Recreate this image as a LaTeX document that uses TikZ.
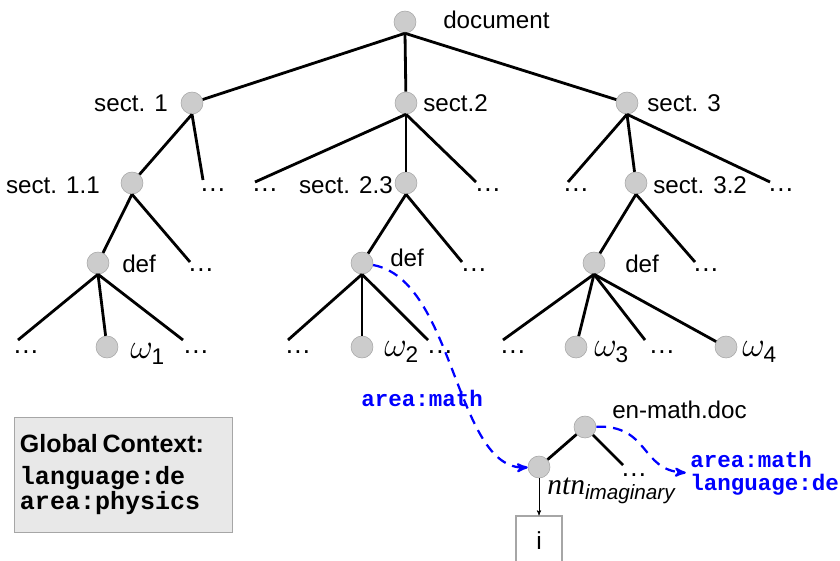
\documentclass[tikz,border=0pt]{standalone}
\usepackage{amsmath}
\usepackage{fontspec}
\setmainfont{Liberation Sans}
\setsansfont{Liberation Sans}
\setmonofont{Liberation Mono}
\newfontfamily\serifit{Liberation Serif}
\usetikzlibrary{arrows}

\begin{document}
\begin{tikzpicture}[x=0.025cm,y=-0.025cm,>=stealth',
  tree node/.style={circle,fill=gray!40,draw=gray!70,thin,minimum size=0.55cm,inner sep=0pt},
  tree edge/.style={-,line width=2pt},
  lbl/.style={font=\fontsize{17.2}{20}\selectfont,inner sep=0pt},
  dots/.style={font=\fontsize{19}{20}\selectfont,inner sep=0pt},
  leaf/.style={font=\fontsize{23}{24}\selectfont,inner sep=0pt,anchor=west},
  ctx/.style={font=\ttfamily\bfseries\fontsize{16}{16.5}\selectfont,text=blue,inner sep=0pt,anchor=west,align=left},
  ctx link/.style={->,blue,line width=1.6pt,dash pattern=on 7pt off 5pt}]

  \useasboundingbox (0,0) rectangle (840,560);

  % tree nodes
  \node[tree node] (doc) at (405,22) {};
  \node[tree node] (s1) at (192,103) {};
  \node[tree node] (s2) at (406,103) {};
  \node[tree node] (s3) at (627,103) {};
  \node[tree node] (s11) at (132,183) {};
  \node[tree node] (s23) at (406,183) {};
  \node[tree node] (s32) at (636,183) {};
  \node[tree node] (def1) at (98,263) {};
  \node[tree node] (def2) at (362,263) {};
  \node[tree node] (def3) at (594,263) {};
  \node[tree node] (om1) at (107,347) {};
  \node[tree node] (om2) at (362,347) {};
  \node[tree node] (om3) at (576,347) {};
  \node[tree node] (om4) at (726,347) {};
  \node[tree node] (enmath) at (585,427) {};
  \node[tree node] (ntn) at (539,467) {};

  % labels
  \node[lbl,anchor=west] (t-doc) at (443,20) {document};
  \node[lbl,anchor=east] (t-s1) at (168,103) {sect. 1};
  \node[lbl,anchor=west] (t-s2) at (423,103) {sect.2};
  \node[lbl,anchor=west] (t-s3) at (647,103) {sect. 3};
  \node[lbl,anchor=east] (t-s11) at (100,185) {sect. 1.1};
  \node[lbl,anchor=east] (t-s23) at (393,185) {sect. 2.3};
  \node[lbl,anchor=west] (t-s32) at (653,185) {sect. 3.2};
  \node[lbl,anchor=west] (t-def1) at (122,264) {def};
  \node[lbl,anchor=west] (t-def2) at (390,258) {def};
  \node[lbl,anchor=west] (t-def3) at (625,264) {def};
  \node[leaf] (t-om1) at (130,354) {$\omega_{\text{1}}$};
  \node[leaf] (t-om2) at (384,352) {$\omega_{\text{2}}$};
  \node[leaf] (t-om3) at (594,352) {$\omega_{\text{3}}$};
  \node[leaf] (t-om4) at (742,352) {$\omega_{\text{4}}$};
  \node[lbl,anchor=west] (t-enmath) at (612,410) {en-math.doc};
  \node[inner sep=0pt,anchor=west,font=\fontsize{21}{22}\selectfont] (t-ntn) at (547,491)
    {$\text{\serifit\itshape ntn}_{\text{\itshape imaginary}}$};

  % open ends
  \coordinate (e1) at (203,180);  \node[dots] (d1) at (213,190) {\dots};
  \coordinate (e2) at (255,182);  \node[dots] (d2) at (265,190) {\dots};
  \coordinate (e3) at (476,182);  \node[dots] (d3) at (488,190) {\dots};
  \coordinate (e4) at (568,182);  \node[dots] (d4) at (576,190) {\dots};
  \coordinate (e5) at (770,182);  \node[dots] (d5) at (781,190) {\dots};
  \coordinate (e6) at (190,262);  \node[dots] (d6) at (201,270) {\dots};
  \coordinate (e7) at (462,262);  \node[dots] (d7) at (474,270) {\dots};
  \coordinate (e8) at (695,262);  \node[dots] (d8) at (706,270) {\dots};
  \coordinate (e9) at (18,340);   \node[dots] (d9) at (26,352) {\dots};
  \coordinate (e10) at (183,340); \node[dots] (d10) at (196,352) {\dots};
  \coordinate (e11) at (288,340); \node[dots] (d11) at (298,352) {\dots};
  \coordinate (e12) at (428,340); \node[dots] (d12) at (440,352) {\dots};
  \coordinate (e13) at (503,340); \node[dots] (d13) at (513,352) {\dots};
  \coordinate (e14) at (645,340); \node[dots] (d14) at (662,352) {\dots};
  \coordinate (e15) at (623,465); \node[dots] (d15) at (634,475) {\dots};

  \path[tree edge]
    (doc.south) edge (s1) edge (s2) edge (s3)
    (s1.south) edge (s11) edge (e1)
    (s2.south) edge (e2) edge (s23) edge (e3)
    (s3.south) edge (e4) edge (s32) edge (e5)
    (s11.south) edge (def1) edge (e6)
    (s23.south) edge (def2) edge (e7)
    (s32.south) edge (def3) edge (e8)
    (def1.south) edge (e9) edge (om1) edge (e10)
    (def2.south) edge (e11) edge (om2) edge (e12)
    (def3.south) edge (e13) edge (om3) edge (e14) edge (om4)
    (enmath) edge (ntn) edge (e15);

  % global context
  \node[draw=gray!70,fill=gray!18,minimum width=5.45cm,minimum height=2.875cm,
        text width=5.15cm,inner sep=0.15cm,align=left] (global) at (123,474.5)
    {\fontsize{17.8}{24}\selectfont\textbf{Global Context:}\\[-1pt]
     \ttfamily\bfseries language:de\\ \ttfamily\bfseries area:physics};

  % instance
  \node[draw=gray!70,line width=0.8pt,minimum width=1.15cm,minimum height=1.25cm,
        font=\fontsize{17.5}{20}\selectfont] (ibox) at (539,541) {i};
  \draw[->,thin] (ntn) -- (ibox);

  % context links
  \node[ctx] (c1) at (361,398) {area:math};
  \node[ctx] (c2) at (690,473) {area:math\\language:de};
  \draw[ctx link] (def2) .. controls (455,280) and (455,470) .. (ntn);
  \draw[ctx link,shorten >=3pt] (enmath) .. controls (650,425) and (640,470) .. (c2.west);
\end{tikzpicture}
\end{document}
